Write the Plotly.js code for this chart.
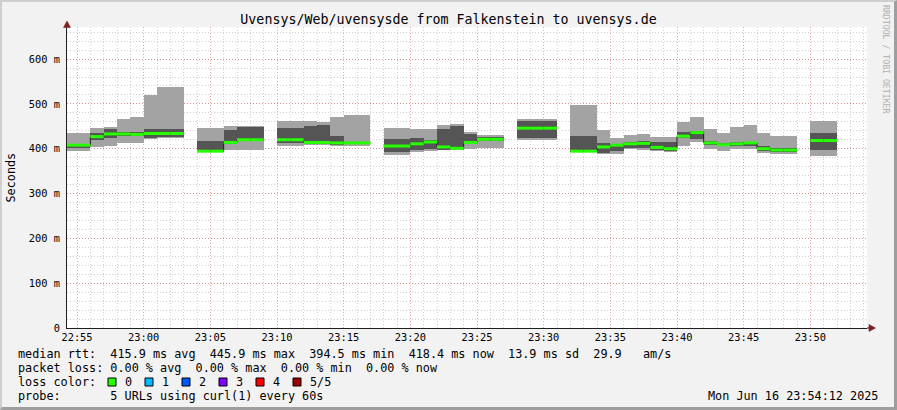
<!DOCTYPE html>
<html><head><meta charset="utf-8">
<script src="https://cdn.plot.ly/plotly-3.0.1.min.js"></script>
<style>
html,body{margin:0;padding:0;background:#f2f2f2;overflow:hidden}
#chart{width:897px;height:410px;position:absolute;left:0;top:0}
#frame{position:absolute;left:0;top:0;width:897px;height:410px;box-sizing:border-box;border-top:2px solid #cfcfcf;border-left:2px solid #cfcfcf;border-right:3px solid #9e9e9e;border-bottom:3px solid #9e9e9e;pointer-events:none;z-index:10}
</style></head>
<body><div id="chart"></div><div id="frame"></div>
<script>
const day = '2025-06-16 ';
const binStart = ['22:54','22:55','22:56','22:57','22:58','22:59','23:00','23:01','23:02','23:03',
  '23:04','23:05','23:06','23:07','23:08','23:09','23:10','23:11','23:12','23:13',
  '23:14','23:15','23:16','23:17','23:18','23:19','23:20','23:21','23:22','23:23',
  '23:24','23:25','23:26','23:27','23:28','23:29','23:30','23:31','23:32','23:33',
  '23:34','23:35','23:36','23:37','23:38','23:39','23:40','23:41','23:42','23:43',
  '23:44','23:45','23:46','23:47','23:48','23:49','23:50','23:51','23:52','23:53'];
// smoke: lowest ping, 2nd ping, median, 4th ping, highest ping (ms)
const minRtt = [396,396,404,407,412,413,422,423,423,null, 393,393,398,398,398,null,407,407,409,409,
  407,407,407,null,387,387,393,396,397,398, 400,401,401,null,419,419,419,null,392,392,
  389,388,399,397,395,392,407,416,400,396, 399,399,390,388,388,null,384,384,null,null];
const p2Rtt = [401,401,419,425,429,428,425,427,427,null, 393.5,393.5,411,418,418,null,413,413,411,411,
  409,410,410,null,393,393,397,399,398,399, 412,418,418,null,423,423,423,null,393,393,
  391,394,401,401,397,395,425,422,409,406, 406,407,394,392,392,null,397,397,null,null];
const medRtt = [408,408,427,433,433,432,434,434,434,null, 394.5,394.5,414,420,420,null,420,420,414,414,
  413,413,413,null,406,406,411,415,404,401, 414,421,421,null,445.9,445.9,445.9,null,394.5,394.5,
  404,408,411,412,403,400,428,436,413,409, 411,413,400,397,397,null,418.4,418.4,null,null];
const p4Rtt = [410,410,435,443,437,437,443,443,443,null, 418,418,442,448,448,null,446,446,451,453,
  428,416,416,null,422,422,424,419,445,450, 433,427,427,null,462,462,462,null,428,428,
  412,410,415,417,416,416,438,440,417,412, 414,416,406,401,401,null,436,436,null,null];
const maxRtt = [435,435,447,449,467,471,520,537,537,null, 447,447,451,451,451,null,462,462,462,460,
  471,476,476,null,446,446,445,445,453,456, 437,430,430,null,467,467,467,null,498,498,
  442,425,431,433,427,427,460,471,445,436, 449,453,436,429,429,null,462,462,null,null];
const yTickVals = [0,100,200,300,400,500,600];
const yTickText = ['0','100 m','200 m','300 m','400 m','500 m','600 m'];
const legendLines = [
  'median rtt:  415.9 ms avg  445.9 ms max  394.5 ms min  418.4 ms now  13.9 ms sd  29.9   am/s',
  'packet loss: 0.00 % avg  0.00 % max  0.00 % min  0.00 % now',
  'loss color:',
  'probe:       5 URLs using curl(1) every 60s'
];
const lossLabels = ['0','1','2','3','4','5/5'];
const lossColors = ['#26ff00','#00b8ff','#0059ff','#7e00ff','#ff0000','#a10000'];
const stamp = 'Mon Jun 16 23:54:12 2025';

function addMin(t, m){ const [h,mm]=t.split(':').map(Number); const tot=h*60+mm+m;
  const hh=Math.floor(tot/60)%24, m2=tot%60; return String(hh).padStart(2,'0')+':'+String(m2).padStart(2,'0'); }
const centers = binStart.map(t => day + t + ':30');
const starts = binStart.map(t => day + t + ':00');
const ends = binStart.map(t => day + addMin(t,1) + ':00');

const lightY = maxRtt.map((v,i)=> v==null?null: v-minRtt[i]);
const darkY = p4Rtt.map((v,i)=> v==null?null: v-p2Rtt[i]);

const gx=[], gy=[], cx=[], cy=[];
medRtt.forEach((m,i)=>{
  if(m==null){ cx.push(null); cy.push(null); return; }
  gx.push(starts[i], ends[i], null); gy.push(m, m, null);
  cx.push(starts[i], ends[i]); cy.push(m, m);
});

const mono = 'DejaVu Sans Mono, monospace';
const traces = [
  {type:'bar', x:centers, y:lightY, base:minRtt, width:60000, marker:{color:'#a3a3a3', line:{width:0}}, hoverinfo:'skip'},
  {type:'bar', x:centers, y:darkY, base:p2Rtt, width:60000, marker:{color:'#555555', line:{width:0}}, hoverinfo:'skip'},
  {type:'scatter', mode:'lines', x:cx, y:cy, line:{color:'#202020', width:1}, connectgaps:false, hoverinfo:'skip'},
  {type:'scatter', mode:'lines', x:gx, y:gy, line:{color:lossColors[0], width:3}, connectgaps:false, hoverinfo:'skip'}
];

const L=67, R=867, T=27, B=328;
const px = v => (v-L)/(R-L);
const py = v => (B-v)/(B-T);
const nb = s => s.replace(/ /g,'\u00a0');

const ann = [];
const ly = [354,368,382,396];
legendLines.forEach((s,i)=> ann.push({xref:'paper',yref:'paper',x:px(16),y:py(ly[i]),xanchor:'left',yanchor:'middle',showarrow:false,text:nb(s),font:{family:mono,size:11.8,color:'#000'}}));
const shapes = [];
lossLabels.forEach((s,i)=>{
  const bx = 108 + 37*i;
  shapes.push({type:'rect',xref:'paper',yref:'paper',x0:px(bx),x1:px(bx+8),y0:py(386),y1:py(378),fillcolor:lossColors[i],line:{color:'#000',width:1}});
  ann.push({xref:'paper',yref:'paper',x:px(bx+15),y:py(382),xanchor:'left',yanchor:'middle',showarrow:false,text:s,font:{family:mono,size:11.8,color:'#000'}});
});
ann.push({xref:'paper',yref:'paper',x:px(880),y:py(396),xanchor:'right',yanchor:'middle',showarrow:false,text:nb(stamp),font:{family:mono,size:11.8,color:'#000'}});
ann.push({xref:'paper',yref:'paper',x:px(10),y:0.5,xanchor:'center',yanchor:'middle',textangle:-90,showarrow:false,text:'Seconds',font:{family:mono,size:11.8,color:'#000'}});
ann.push({xref:'paper',yref:'paper',x:px(886),y:py(59),xanchor:'center',yanchor:'middle',textangle:90,showarrow:false,text:nb('RRDTOOL / TOBI OETIKER'),font:{family:mono,size:8.2,color:'#b0b0b0'}});

// axis extensions and arrows
shapes.push({type:'line',xref:'paper',yref:'paper',x0:1,x1:px(870),y0:0,y1:0,line:{color:'#1f1f1f',width:1}});
shapes.push({type:'line',xref:'paper',yref:'paper',x0:0,x1:0,y0:1,y1:py(23),line:{color:'#1f1f1f',width:1}});
shapes.push({type:'path',xref:'paper',yref:'paper',path:`M ${px(869)} ${py(324.5)} L ${px(875.5)} ${py(328)} L ${px(869)} ${py(331.5)} Z`,fillcolor:'#801f1f',line:{color:'#801f1f',width:0.5}});
shapes.push({type:'path',xref:'paper',yref:'paper',path:`M ${px(63.5)} ${py(27.5)} L ${px(67)} ${py(21)} L ${px(70.5)} ${py(27.5)} Z`,fillcolor:'#801f1f',line:{color:'#801f1f',width:0.5}});

const layout = {
  width:897, height:410,
  margin:{l:L, r:897-R, t:T, b:410-B, pad:0},
  paper_bgcolor:'#f2f2f2', plot_bgcolor:'#ffffff',
  showlegend:false, barmode:'overlay', bargap:0,
  font:{family:mono, color:'#000'},
  title:{text:'Uvensys/Web/uvensysde from Falkenstein to uvensys.de', x:0.5, xref:'container', xanchor:'center', y:1-19/410, yanchor:'middle', font:{family:mono,size:13.3,color:'#000'}},
  xaxis:{type:'date', range:[day+'22:54:15', day+'23:54:15'], tick0:day+'22:55:00', dtick:300000, tickformat:'%H:%M',
    showgrid:true, gridcolor:'rgba(222,79,79,0.5)', griddash:'1px,2px', gridwidth:1,
    minor:{dtick:60000, tick0:day+'22:55:00', showgrid:true, gridcolor:'rgba(150,150,150,0.45)', griddash:'1px,2px', gridwidth:1, ticks:''},
    showline:true, linecolor:'#1f1f1f', linewidth:1, zeroline:false, ticks:'', tickfont:{family:mono,size:10.35,color:'#000'}, fixedrange:true},
  yaxis:{range:[0,671.6], tickvals:yTickVals, ticktext:yTickText, ticklabelstandoff:4,
    showgrid:true, gridcolor:'rgba(222,79,79,0.5)', griddash:'1px,2px', gridwidth:1,
    minor:{dtick:20, tick0:0, showgrid:true, gridcolor:'rgba(150,150,150,0.45)', griddash:'1px,2px', gridwidth:1, ticks:''},
    showline:true, linecolor:'#1f1f1f', linewidth:1, zeroline:false, ticks:'', tickfont:{family:mono,size:10.35,color:'#000'}, fixedrange:true},
  annotations:ann, shapes:shapes
};
Plotly.newPlot('chart', traces, layout, {staticPlot:true, displayModeBar:false});
</script>
</body></html>
